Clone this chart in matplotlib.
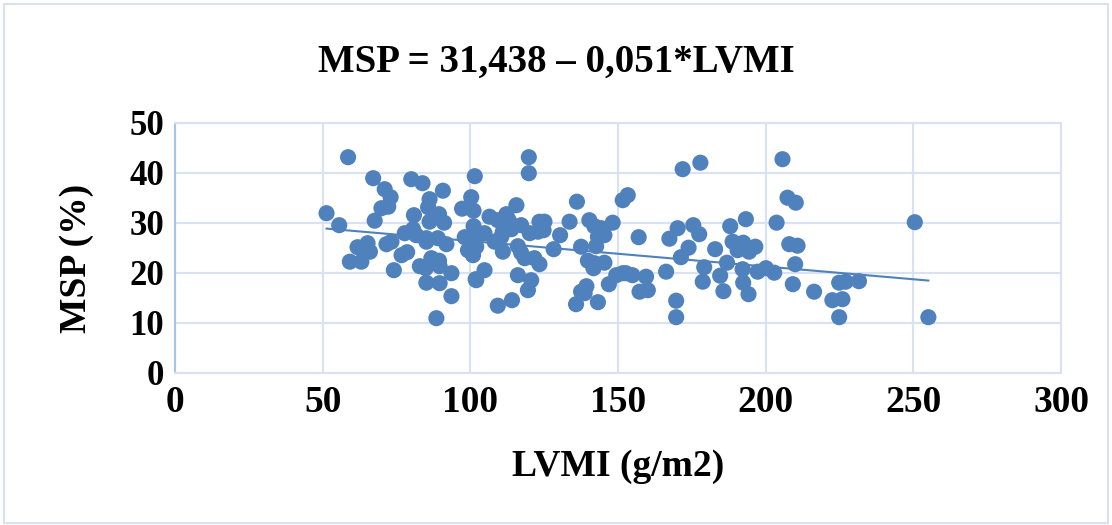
import numpy as np
import matplotlib.pyplot as plt
from matplotlib.patches import Rectangle

# LVMI (g/m2) and MSP (%) per patient
lvmi = [58.6, 51.3, 55.6, 67.1, 71.0, 73.0, 69.9, 72.2, 67.6, 80.0,
        83.8, 86.2, 85.7, 90.7, 80.9, 86.2, 89.4, 91.1, 97.2, 100.3,
        101.5, 101.1, 101.1, 77.8, 80.6, 81.7, 85.1, 85.1, 89.0, 91.9,
        98.1, 99.2, 100.9, 71.6, 73.3, 61.8, 65.2, 66.0, 59.2, 63.1,
        76.7, 78.6, 74.1, 82.9, 84.9, 86.8, 89.4, 89.6, 93.6, 85.1,
        89.6, 93.6, 88.5, 101.8, 119.8, 119.8, 106.5, 109.3, 112.2, 113.0,
        115.6, 117.2, 104.8, 111.0, 113.9, 110.5, 101.5, 102.0, 100.9, 108.2,
        111.0, 116.1, 117.2, 118.4, 121.7, 123.4, 120.1, 122.9, 123.4, 125.1,
        124.8, 130.4, 133.6, 136.1, 128.2, 137.5, 140.3, 142.0, 144.3, 145.4,
        143.2, 148.2, 142.6, 139.8, 142.0, 145.4, 141.7, 104.8, 102.0, 116.1,
        120.6, 119.5, 109.3, 114.1, 135.8, 138.7, 139.3, 137.5, 143.2, 146.9,
        149.4, 151.6, 151.6, 153.3, 171.9, 177.9, 205.7, 157.0, 167.4, 170.2,
        175.5, 177.5, 173.9, 171.3, 182.9, 188.0, 193.3, 188.8, 190.5, 192.4,
        194.4, 196.5, 186.9, 203.7, 179.2, 184.6, 178.7, 192.2, 192.4, 194.2,
        185.7, 197.3, 200.1, 202.9, 166.3, 159.5, 160.1, 157.3, 152.7, 154.9,
        169.7, 169.7, 207.4, 210.2, 208.0, 210.8, 210.0, 209.2, 216.4, 222.6,
        226.0, 224.9, 227.1, 231.6, 224.9, 250.5, 255.1]
msp = [43.1, 31.9, 29.5, 38.9, 36.7, 35.1, 32.9, 33.2, 30.4, 38.7,
       37.9, 34.7, 33.1, 36.4, 31.5, 30.2, 31.7, 30.0, 32.8, 35.1,
       39.3, 32.4, 29.3, 27.9, 28.7, 27.5, 26.9, 26.2, 26.9, 25.7,
       27.1, 24.5, 23.5, 25.7, 26.2, 25.1, 25.9, 24.2, 22.2, 22.2,
       23.5, 24.1, 20.5, 21.3, 20.9, 22.9, 22.4, 21.3, 19.9, 18.0,
       17.9, 15.3, 10.9, 18.7, 43.1, 39.9, 31.2, 30.5, 31.7, 30.5,
       33.5, 29.5, 27.9, 28.2, 28.7, 27.2, 26.5, 25.2, 23.7, 26.2,
       24.2, 25.3, 24.0, 22.9, 22.9, 21.7, 27.9, 28.2, 30.2, 30.2,
       28.5, 27.5, 30.2, 34.2, 24.7, 25.2, 30.5, 29.3, 28.9, 27.5,
       27.2, 30.0, 25.3, 22.4, 21.9, 22.0, 20.9, 20.5, 18.5, 19.5,
       18.5, 16.5, 13.4, 14.5, 13.7, 15.9, 17.3, 16.2, 14.1, 17.7,
       19.5, 19.9, 34.5, 35.5, 40.7, 42.0, 42.7, 27.1, 26.8, 28.9,
       29.5, 27.7, 25.0, 23.1, 24.7, 29.3, 30.7, 26.2, 24.5, 26.0,
       24.2, 25.2, 22.0, 30.0, 21.1, 19.4, 18.2, 20.7, 18.0, 15.7,
       16.3, 20.2, 20.9, 20.0, 20.2, 19.2, 16.5, 16.2, 19.9, 19.5,
       14.4, 11.1, 35.0, 34.0, 25.7, 25.4, 21.7, 17.7, 16.2, 14.5,
       14.7, 18.0, 18.2, 18.3, 11.1, 30.1, 11.1]

# regression: MSP = 31,438 - 0,051*LVMI
intercept = 31.438
slope = -0.051

blue = '#4f81bd'
grid_c = '#d9e2f3'

plt.rcParams['font.family'] = ['Liberation Serif', 'DejaVu Serif']
plt.rcParams['font.weight'] = 'bold'

fig = plt.figure(figsize=(11.12, 5.25), dpi=100)
ax = fig.add_axes([0.1574, 0.2901, 0.9541 - 0.1574, 0.7663 - 0.2901])

ax.scatter(lvmi, msp, s=135, color=blue, edgecolors='none', zorder=3)

xl = np.array([min(lvmi), max(lvmi)])
ax.plot(xl, intercept + slope * xl, color=blue, lw=1.5, zorder=2)

ax.set_xlim(0, 300)
ax.set_ylim(0, 50)
ax.set_xticks(range(0, 301, 50))
ax.set_yticks(range(0, 51, 10))
ax.grid(True, color=grid_c, lw=1.5, zorder=0)
ax.set_axisbelow(True)
for side in ['top', 'right', 'bottom']:
    ax.spines[side].set_color(grid_c)
    ax.spines[side].set_linewidth(1.5)
ax.spines['left'].set_color('#a9c4ea')
ax.spines['left'].set_linewidth(1.5)
ax.tick_params(length=0)
ax.tick_params(axis='x', labelsize=27, pad=9)
ax.tick_params(axis='y', labelsize=25, pad=8)

fig.text(0.5, 0.882, 'MSP = 31,438 – 0,051*LVMI', ha='center', va='center',
         fontsize=28, fontweight='bold')
fig.text(0.556, 0.112, 'LVMI (g/m2)', ha='center', va='center',
         fontsize=27, fontweight='bold')
fig.text(0.069, 0.507, 'MSP (%)', ha='center', va='center', rotation=90,
         fontsize=27, fontweight='bold')

# thin frame round the whole chart
fig.patches.append(Rectangle((0.004, 0.004), 0.992, 0.988, transform=fig.transFigure,
                             fill=False, edgecolor=grid_c, lw=1.5))

fig.savefig('out.png', dpi=100)
